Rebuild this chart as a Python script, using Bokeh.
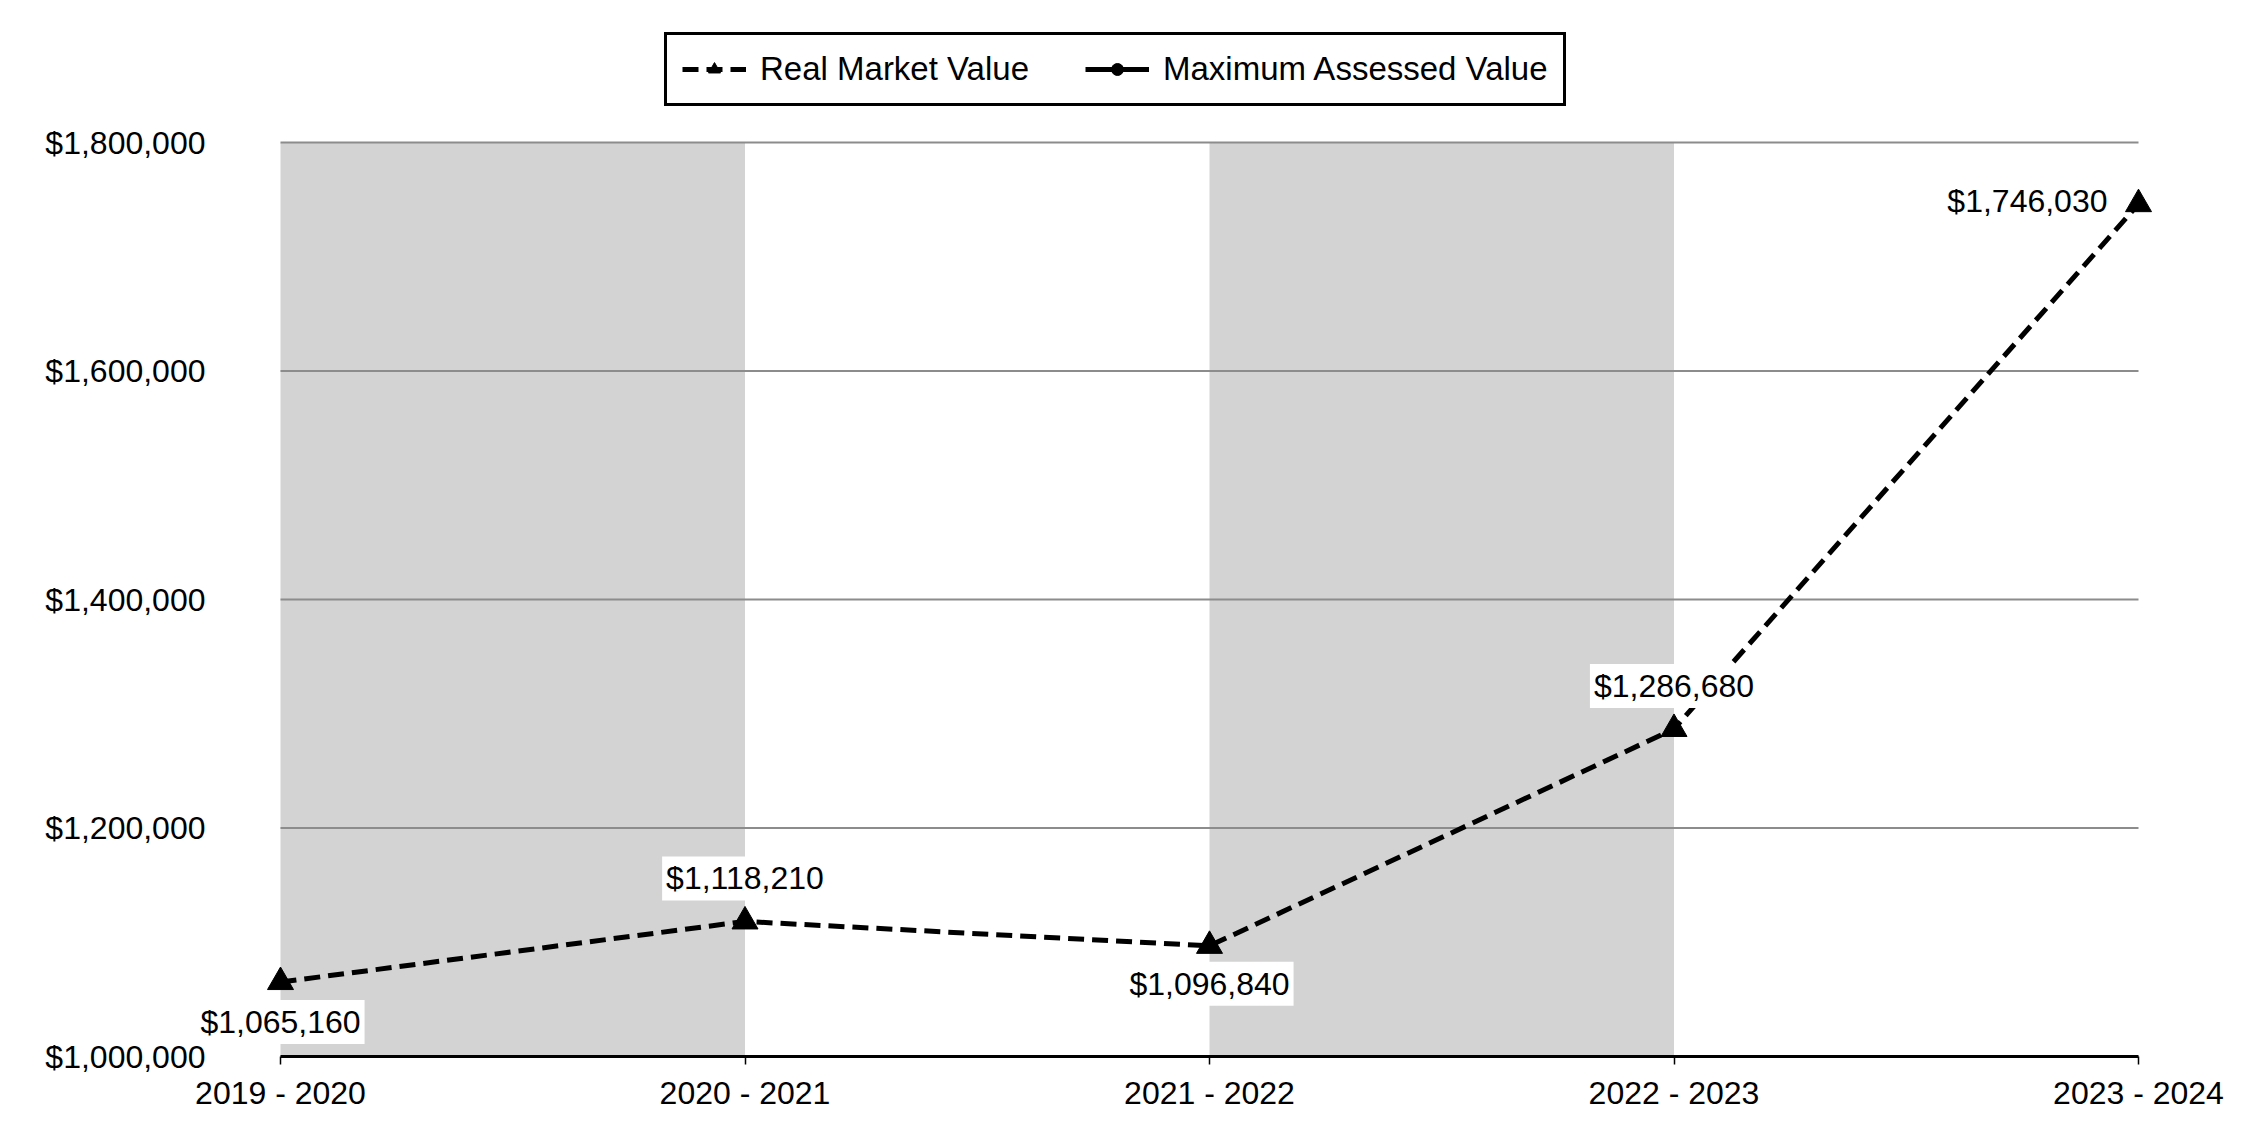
from bokeh.plotting import figure
from bokeh.models import (ColumnDataSource, FixedTicker, NumeralTickFormatter, Legend, LegendItem,
                          Label, Range1d)
from bokeh.embed import file_html
from bokeh.resources import INLINE

categories = ["2019 - 2020", "2020 - 2021", "2021 - 2022", "2022 - 2023", "2023 - 2024"]
real_market_value = [1065160, 1118210, 1096840, 1286680, 1746030]
max_assessed_value = [float("nan")] * len(categories)  # legend only, no visible values
y_ticks = [1000000, 1200000, 1400000, 1600000, 1800000]

FONT = "Liberation Sans"
n = len(categories)
x_idx = list(range(n))

# layout (figure pixels)
W, H = 2234, 1124
FRAME_L, FRAME_R, FRAME_T, FRAME_B = 158, 2172, 18, 1056
DATA_L, DATA_R, DATA_T = 280, 2138, 142   # first / last category, top tick
px_per_x = (DATA_R - DATA_L) / (n - 1)
px_per_y = (FRAME_B - DATA_T) / (y_ticks[-1] - y_ticks[0])
x_start = 0 - (DATA_L - FRAME_L) / px_per_x
x_end = (n - 1) + (FRAME_R - DATA_R) / px_per_x
y_end = y_ticks[-1] + (DATA_T - FRAME_T) / px_per_y

p = figure(width=W, height=H, output_backend="svg", toolbar_location=None,
           x_range=Range1d(x_start, x_end), y_range=Range1d(y_ticks[0], y_end),
           min_border_left=FRAME_L, min_border_right=W - FRAME_R,
           min_border_top=FRAME_T, min_border_bottom=H - FRAME_B)
p.outline_line_color = None
p.background_fill_color = "white"
p.xgrid.visible = False
p.ygrid.visible = False

# alternating gray bands
band_l = [i for i in range(0, n - 1, 2)]
band_r = [i + 1 for i in band_l]
p.quad(left=band_l, right=band_r, bottom=y_ticks[0], top=y_ticks[-1],
       fill_color="#d3d3d3", line_color=None)
# horizontal grid lines
p.segment(x0=0, x1=n - 1, y0=y_ticks[1:], y1=y_ticks[1:], line_color="#8c8c8c", line_width=2)

# x axis
xa = p.xaxis[0]
xa.ticker = FixedTicker(ticks=x_idx)
xa.bounds = (0, n - 1)
xa.major_label_overrides = {i: c for i, c in enumerate(categories)}
xa.axis_line_color = "black"
xa.axis_line_width = 3
xa.major_tick_line_color = "black"
xa.major_tick_line_width = 1.5
xa.major_tick_out = 8
xa.major_tick_in = 0
xa.minor_tick_line_color = None
xa.major_label_standoff = 10
xa.major_label_text_font = FONT
xa.major_label_text_font_size = "32px"
xa.major_label_text_color = "black"

# y axis
ya = p.yaxis[0]
ya.ticker = FixedTicker(ticks=y_ticks)
ya.formatter = NumeralTickFormatter(format="$0,0")
ya.axis_line_color = None
ya.major_tick_line_color = None
ya.minor_tick_line_color = None
ya.major_tick_out = 0
ya.major_tick_in = 0
ya.major_label_standoff = FRAME_L - 205
ya.major_label_text_font = FONT
ya.major_label_text_font_size = "32px"
ya.major_label_text_color = "black"

src = ColumnDataSource(dict(x=x_idx, y=real_market_value))
rl = p.line("x", "y", source=src, line_color="black", line_width=5, line_dash="16 8")
rs = p.scatter("x", "y", source=src, marker="triangle", size=26, fill_color="black",
               line_color="black")

msrc = ColumnDataSource(dict(x=x_idx, y=max_assessed_value))
ml = p.line("x", "y", source=msrc, line_color="black", line_width=5)
ms = p.scatter("x", "y", source=msrc, marker="circle", size=18, fill_color="black",
               line_color="black")

# value labels
placements = [("center", 0, -40), ("center", 0, 43), ("center", 0, -38), ("center", 0, 43),
              ("right", -27, 3)]
for xi, yv, (al, xo, yo) in zip(x_idx, real_market_value, placements):
    p.add_layout(Label(x=xi, y=yv, text="${:,}".format(yv), x_offset=xo, y_offset=yo,
                       text_align=al, text_baseline="middle", text_font=FONT,
                       text_font_size="32px", text_color="black",
                       background_fill_color="white", background_fill_alpha=1.0, padding=4))

legend = Legend(items=[LegendItem(label="Real Market Value", renderers=[rl, rs]),
                       LegendItem(label="Maximum Assessed Value", renderers=[ml, ms])],
                orientation="horizontal", location=(664 - FRAME_L, FRAME_B - 106),
                border_line_color="black", border_line_width=3, border_line_alpha=1,
                background_fill_color="white", background_fill_alpha=1,
                label_text_font=FONT, label_text_font_size="33px", label_text_color="black",
                padding=15, spacing=56, label_standoff=14, glyph_width=64, glyph_height=30,
                margin=0)
p.add_layout(legend, "center")

open("out.html", "w").write(file_html(p, INLINE))
